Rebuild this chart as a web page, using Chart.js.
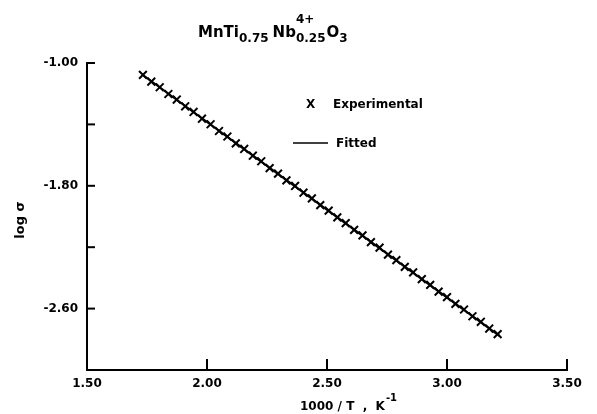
<!DOCTYPE html>
<html>
<head>
<meta charset="utf-8">
<script src="https://cdn.jsdelivr.net/npm/chart.js@4/dist/chart.umd.min.js"></script>
<style>
  body { margin: 0; background: #fff; }
  #wrap { width: 597px; height: 414px; }
</style>
</head>
<body>
<div id="wrap"><canvas id="grafico" width="597" height="414"></canvas></div>
<script>
// valores
const invT = [1.733, 1.768, 1.803, 1.839, 1.874, 1.909, 1.944, 1.979, 2.015, 2.050,
  2.085, 2.120, 2.155, 2.191, 2.226, 2.261, 2.296, 2.331, 2.367, 2.402,
  2.437, 2.472, 2.507, 2.543, 2.578, 2.613, 2.648, 2.683, 2.719, 2.754,
  2.789, 2.824, 2.859, 2.895, 2.930, 2.965, 3.000, 3.035, 3.071, 3.106,
  3.141, 3.176, 3.211];
const logSigma = [-1.077, -1.121, -1.158, -1.202, -1.238, -1.282, -1.319, -1.363, -1.399, -1.443,
  -1.479, -1.524, -1.560, -1.604, -1.640, -1.685, -1.721, -1.765, -1.801, -1.845,
  -1.882, -1.926, -1.962, -2.006, -2.043, -2.087, -2.123, -2.167, -2.203, -2.248,
  -2.284, -2.328, -2.364, -2.408, -2.445, -2.489, -2.525, -2.569, -2.606, -2.650,
  -2.686, -2.730, -2.766];
const fitX = [1.73, 2.20, 2.70, 3.22];
const fitY = [-1.075, -1.613, -2.185, -2.779];
const yLabels = ['-1.00', '-1.80', '-2.60'];

const FONTE = 'DejaVu Sans';
Chart.defaults.font.family = FONTE;
Chart.defaults.font.weight = 'bold';
Chart.defaults.color = '#000';

// marcas dos ticks para dentro da área do gráfico
const ticksDentro = {
  id: 'ticksDentro',
  afterDraw(chart) {
    const { ctx, scales: { x, y }, chartArea: a } = chart;
    ctx.save();
    ctx.strokeStyle = '#000';
    ctx.lineWidth = 2;
    x.ticks.forEach(t => {
      const px = x.getPixelForValue(t.value);
      ctx.beginPath(); ctx.moveTo(px, a.bottom); ctx.lineTo(px, a.bottom - 11); ctx.stroke();
    });
    y.ticks.forEach(t => {
      const py = y.getPixelForValue(t.value);
      ctx.beginPath(); ctx.moveTo(a.left, py); ctx.lineTo(a.left + 8, py); ctx.stroke();
    });
    ctx.restore();
  }
};

// textos: título com índices, legenda e títulos dos eixos
const textos = {
  id: 'textos',
  afterDraw(chart) {
    const ctx = chart.ctx;
    ctx.save();
    ctx.fillStyle = '#000';
    ctx.textBaseline = 'alphabetic';
    ctx.textAlign = 'left';

    const f = s => `bold ${s}px ${FONTE}`;
    let cx = 198;
    const base = 37;
    const run = (t, size, dy) => {
      ctx.font = f(size);
      ctx.fillText(t, cx, base + dy);
      return ctx.measureText(t).width;
    };
    cx += run('MnTi', 15, 0);
    cx += 1 + run('0.75', 12, 5);
    cx += 3;
    cx += run('Nb', 15, 0);
    const w1 = run('4+', 12, -14);
    const w2 = run('0.25', 12, 5);
    cx += Math.max(w1, w2) + 1;
    cx += run('O', 15, 0);
    run('3', 12, 5);

    // legenda
    ctx.font = f(12);
    ctx.textBaseline = 'middle';
    ctx.fillText('X', 306, 105);
    ctx.fillText('Experimental', 333, 105);
    ctx.fillText('Fitted', 336, 144);
    ctx.strokeStyle = '#000';
    ctx.lineWidth = 1.5;
    ctx.beginPath(); ctx.moveTo(293, 143); ctx.lineTo(328, 143); ctx.stroke();

    // eixo x
    ctx.textBaseline = 'alphabetic';
    ctx.font = f(12);
    let tx = 300;
    const xt = '1000 / T  ,  K';
    ctx.fillText(xt, tx, 410);
    tx += ctx.measureText(xt).width;
    ctx.font = f(10);
    ctx.fillText('-1', tx + 1, 401);

    // eixo y
    ctx.translate(24, 220);
    ctx.rotate(-Math.PI / 2);
    ctx.font = f(13);
    ctx.textAlign = 'center';
    ctx.fillText('log σ', 0, 0);
    ctx.restore();
  }
};

new Chart(document.getElementById('grafico'), {
  type: 'scatter',
  data: {
    datasets: [
      {
        label: 'Experimental',
        data: invT.map((v, i) => ({ x: v, y: logSigma[i] })),
        pointStyle: 'crossRot',
        pointRadius: 5.5,
        pointBorderWidth: 2,
        borderColor: '#000',
        backgroundColor: '#000',
        showLine: false
      },
      {
        label: 'Fitted',
        data: fitX.map((v, i) => ({ x: v, y: fitY[i] })),
        showLine: true,
        borderColor: '#000',
        borderWidth: 2,
        pointRadius: 0
      }
    ]
  },
  options: {
    responsive: false,
    animation: false,
    layout: { padding: { top: 63, right: 30, left: 0, bottom: 0 } },
    plugins: { legend: { display: false }, tooltip: { enabled: false } },
    scales: {
      x: {
        type: 'linear',
        min: 1.5, max: 3.5,
        afterFit: s => { s.height = 44; },
        grid: { display: false, drawTicks: false },
        border: { display: true, color: '#000', width: 2 },
        ticks: {
          stepSize: 0.5, padding: 7,
          font: { size: 12 },
          callback: v => v.toFixed(2)
        }
      },
      y: {
        min: -3.0, max: -1.0,
        afterFit: s => { s.width = 87; },
        grid: { display: false, drawTicks: false },
        border: { display: true, color: '#000', width: 2 },
        ticks: {
          stepSize: 0.4, padding: 9,
          font: { size: 12 },
          callback: v => {
            const s = v.toFixed(2);
            return yLabels.includes(s) ? s : '';
          }
        }
      }
    }
  },
  plugins: [ticksDentro, textos]
});
</script>
</body>
</html>
